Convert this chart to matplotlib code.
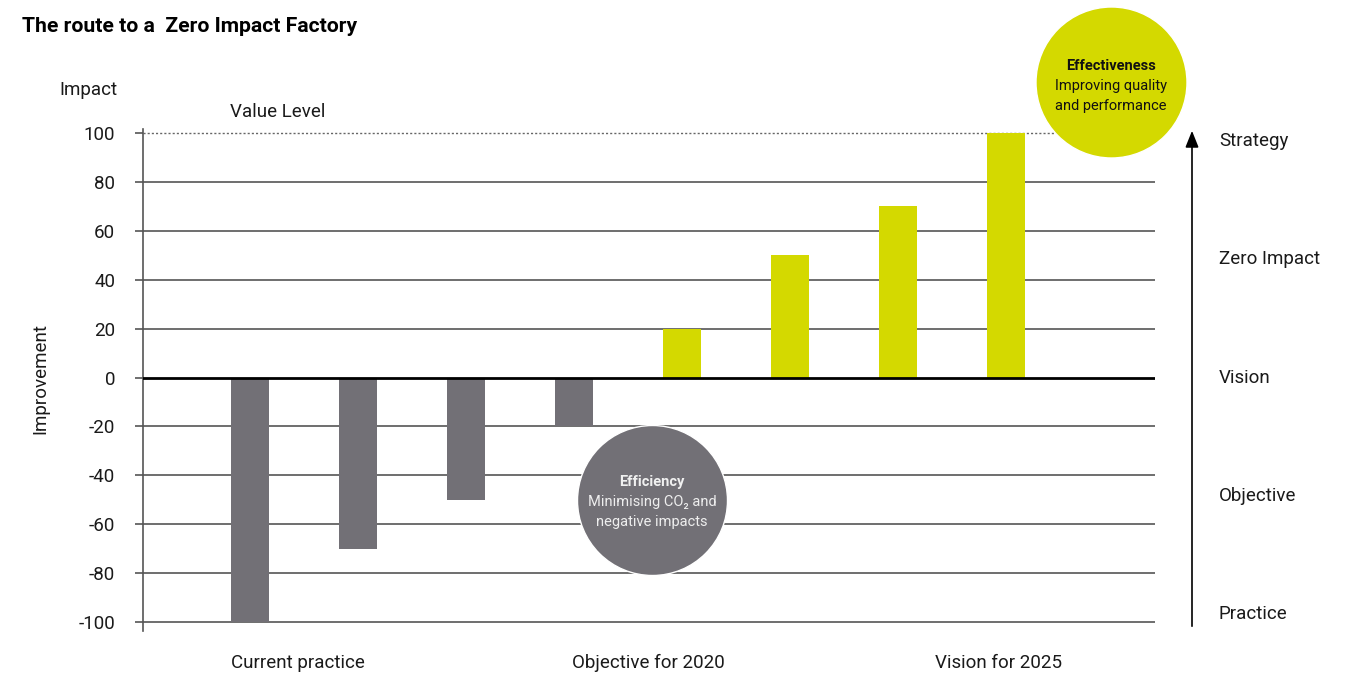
import matplotlib
matplotlib.use("Agg")
import matplotlib.pyplot as plt
import numpy as np

plt.rcParams['font.family'] = ['Roboto', 'DejaVu Sans']

# Data
bar_values = [-100, -70, -50, -20, 20, 50, 70, 100]
bar_colors = ['#727076'] * 4 + ['#d4d900'] * 4
yticks = [-100, -80, -60, -40, -20, 0, 20, 40, 60, 80, 100]
group_labels = ["Current practice", "Objective for 2020", "Vision for 2025"]
group_pos = [0.44, 3.69, 6.93]
stage_labels = ["Strategy", "Zero Impact", "Vision", "Objective", "Practice"]
stage_y = [141, 259, 378, 496, 614]  # pixel rows of labels

W, H = 1357, 679
fig = plt.figure(figsize=(W / 100, H / 100), dpi=100)
ax = fig.add_axes([143 / W, 1 - 630.6 / H, (1155 - 143) / W, (630.6 - 129.3) / H])

x = np.arange(len(bar_values))
ax.bar(x, bar_values, width=0.345, color=bar_colors, zorder=3)

ax.set_xlim(-0.99, 8.38)
ax.set_ylim(-103.5, 101.5)

# grid lines
for yv in yticks:
    if yv == 0:
        ax.axhline(0, color='black', lw=2.0, zorder=4)
    elif yv == 100:
        ax.axhline(100, color='#666666', lw=1.0, ls=(0, (1.5, 1.5)), zorder=2)
    else:
        ax.axhline(yv, color='#555555', lw=1.2, zorder=2)

ax.set_yticks(yticks)
ax.set_yticklabels([str(v) for v in yticks], fontsize=13.5, color='#1a1a1a')
ax.tick_params(axis='y', length=6, width=1.2, color='#555555', pad=14)
ax.set_xticks([])
for s in ['top', 'right', 'bottom']:
    ax.spines[s].set_visible(False)
ax.spines['left'].set_color('#555555')
ax.spines['left'].set_linewidth(1.2)

# group labels
for lbl, p in zip(group_labels, group_pos):
    ax.text(p, -116.8, lbl, ha='center', va='center', fontsize=13.5, color='#1a1a1a',
            clip_on=False)

# Stage labels and arrow
for lbl, py in zip(stage_labels, stage_y):
    fig.text(1219 / W, 1 - py / H, lbl, ha='left', va='center', fontsize=13.5, color='#1a1a1a')
fig.add_artist(matplotlib.patches.FancyArrowPatch(
    (1192 / W, 1 - 629 / H), (1192 / W, 1 - 128 / H), transform=fig.transFigure,
    arrowstyle='-|>,head_length=10,head_width=4', color='black', lw=1.2, mutation_scale=1))

# Text labels
fig.text(22 / W, 1 - 27 / H, "The route to a  Zero Impact Factory", fontsize=15.2,
         fontweight='bold', ha='left', va='center', color='black')
fig.text(59 / W, 1 - 90 / H, "Impact", fontsize=13.5, ha='left', va='center', color='#1a1a1a')
fig.text(230 / W, 1 - 112 / H, "Value Level", fontsize=13.5, ha='left', va='center', color='#1a1a1a')
fig.text(40 / W, 1 - 378 / H, "Improvement", fontsize=13.5, rotation=90, ha='center', va='center',
         color='#1a1a1a')

# Circles
ax.scatter([3.72], [-50.1], s=(150 * 0.72) ** 2, color='#727076', edgecolors='white',
           linewidths=1, zorder=6, clip_on=False)
ax.scatter([7.97], [120.9], s=(151 * 0.72) ** 2, color='#d4d900', edgecolors='white',
           linewidths=1, zorder=6, clip_on=False)

fig.text(652 / W, 1 - 482 / H, "Efficiency", fontsize=10.5, fontweight='bold', color='#f0f0f0',
         ha='center', va='center', zorder=7)
fig.text(652 / W, 1 - 502 / H, "Minimising CO\u2082 and", fontsize=10.5, color='#eeeeee',
         ha='center', va='center', zorder=7)
fig.text(652 / W, 1 - 522 / H, "negative impacts", fontsize=10.5, color='#eeeeee',
         ha='center', va='center', zorder=7)

fig.text(1111 / W, 1 - 66 / H, "Effectiveness", fontsize=10.5, fontweight='bold', color='#111111',
         ha='center', va='center', zorder=7)
fig.text(1111 / W, 1 - 86 / H, "Improving quality", fontsize=10.5, color='#111111',
         ha='center', va='center', zorder=7)
fig.text(1111 / W, 1 - 106 / H, "and performance", fontsize=10.5, color='#111111',
         ha='center', va='center', zorder=7)

fig.savefig("out.png", dpi=100)
